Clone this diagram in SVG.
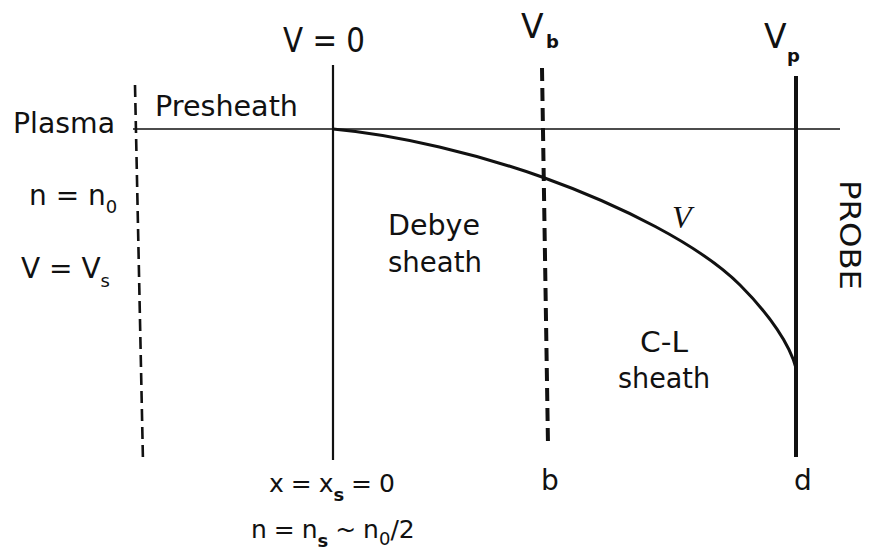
<svg xmlns="http://www.w3.org/2000/svg" width="873" height="550" viewBox="0 0 873 550">
<style>
.t{font-family:"DejaVu Sans","Liberation Sans",sans-serif;font-size:28px;fill:#111}
.big{font-size:33px}
.sub{font-size:18px}
.mid{font-size:25px;word-spacing:-1px}
.ln{stroke:#111;fill:none}
</style>
<rect width="873" height="550" fill="#fff"/>
<g id="lines">
<line class="ln" x1="133" y1="129" x2="840" y2="129" stroke-width="1.6"/>
<line class="ln" x1="135" y1="85" x2="143" y2="462" stroke-width="2.6" stroke-dasharray="12 6"/>
<line class="ln" x1="333" y1="65" x2="333" y2="460" stroke-width="2.2"/>
<line class="ln" x1="542" y1="68" x2="548" y2="445" stroke-width="4" stroke-dasharray="13 7"/>
<line class="ln" x1="796" y1="76" x2="796" y2="457" stroke-width="4"/>
<path class="ln" d="M333,129 C400,135 480,155 542,177 C620,205 700,245 740,285 C770,315 790,345 796,368" stroke-width="3"/>
</g>
<g id="labels">
<text class="t big" x="283" y="52" textLength="82" lengthAdjust="spacingAndGlyphs">V = 0</text>
<text class="t big" x="521" y="38">V<tspan class="sub" x="546" y="48" font-weight="bold">b</tspan></text>
<text class="t big" x="764" y="48">V<tspan class="sub" x="787" y="62" font-weight="bold">p</tspan></text>
<text class="t" x="13" y="133" textLength="102" lengthAdjust="spacingAndGlyphs">Plasma</text>
<text class="t" x="155" y="116" textLength="143" lengthAdjust="spacingAndGlyphs">Presheath</text>
<text class="t" x="29" y="205">n = n<tspan class="sub" dy="8">0</tspan></text>
<text class="t" x="21" y="278">V =  V<tspan class="sub" dy="9">s</tspan></text>
<text class="t" x="388" y="235" textLength="92" lengthAdjust="spacingAndGlyphs">Debye</text>
<text class="t" x="388" y="272" textLength="94" lengthAdjust="spacingAndGlyphs">sheath</text>
<text x="672" y="228" font-family="'Liberation Serif',serif" font-style="italic" font-size="32" fill="#111">V</text>
<text class="t" x="640" y="352" textLength="48" lengthAdjust="spacingAndGlyphs">C-L</text>
<text class="t" x="618" y="388" textLength="92" lengthAdjust="spacingAndGlyphs">sheath</text>
<text class="t" transform="translate(840,180) rotate(90)" x="0" y="0" textLength="110" lengthAdjust="spacingAndGlyphs">PROBE</text>
<text class="t" x="541" y="490">b</text>
<text class="t" x="794" y="490">d</text>
<text class="t mid" x="269" y="492">x = x<tspan class="sub" dy="9" font-weight="bold">s</tspan><tspan dy="-9"> = 0</tspan></text>
<text class="t mid" x="251" y="538">n = n<tspan class="sub" dy="9" font-weight="bold">s</tspan><tspan dy="-9"> ~ n</tspan><tspan class="sub" dy="7">0</tspan><tspan dy="-7">/2</tspan></text>
</g>
</svg>
